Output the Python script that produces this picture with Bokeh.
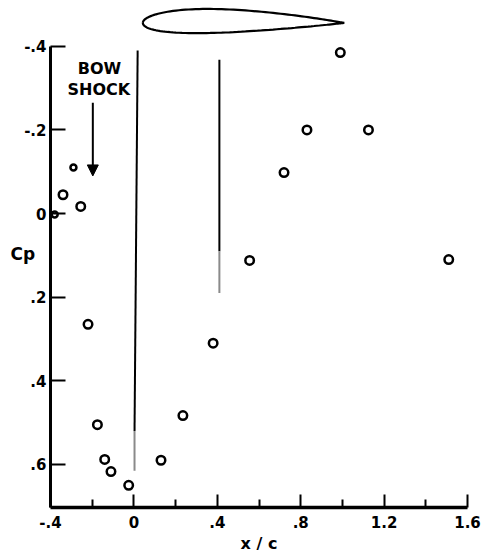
import numpy as np
from bokeh.plotting import figure
from bokeh.models import (Range1d, FixedTicker, CustomJSTickFormatter,
                          Arrow, NormalHead, ColumnDataSource, Label)
from bokeh.embed import file_html
from bokeh.resources import INLINE

# ---- data ----
x_c = [-0.38, -0.34, -0.29, -0.255, -0.22, -0.175, -0.14, -0.11, -0.025,
       0.13, 0.235, 0.38, 0.555, 0.72, 0.83, 0.99, 1.125, 1.51]
cp = [0.002, -0.045, -0.11, -0.017, 0.265, 0.505, 0.588, 0.617, 0.65,
      0.59, 0.483, 0.31, 0.112, -0.098, -0.20, -0.385, -0.20, 0.11]
marker_size = [6, 8.5, 6, 8.5, 8.5, 8.5, 8.5, 8.5, 8.5,
               8.5, 8.5, 8.5, 8.5, 8.5, 8.5, 8.5, 8.5, 8.5]

# vertical shock traces: black part and faded (gray) lower part
shock_x_top = [0.018, 0.41]
shock_x_bot = [0.003, 0.41]
shock_cp_top = [-0.39, -0.368]
shock_cp_mid = [0.52, 0.09]
shock_cp_bot = [0.615, 0.19]

# bow shock arrow
arrow_x = -0.197
arrow_cp_start = -0.265
arrow_cp_end = -0.09

# airfoil sketch parameters (leading edge x/c, chord in x/c, chord line level)
foil_le = 0.043
foil_chord = 0.966
foil_level = -0.456
foil_t, foil_m, foil_p = 0.12, 0.01, 0.4

x_ticks = [-0.4, 0.0, 0.4, 0.8, 1.2, 1.6]
x_minor = [-0.2, 0.2, 0.6, 1.0, 1.4]
y_ticks = [-0.4, -0.2, 0.0, 0.2, 0.4, 0.6]

# ---- figure ----
p = figure(width=481, height=558,
           x_range=Range1d(-0.4, 1.6), y_range=Range1d(0.703, -0.5096),
           output_backend="svg", toolbar_location=None,
           min_border_left=50, min_border_right=14,
           min_border_top=0, min_border_bottom=51)
p.xgrid.visible = False
p.ygrid.visible = False
p.outline_line_color = None

fmt = CustomJSTickFormatter(code="""
if (Math.abs(tick) < 1e-9) { return "0"; }
let s = tick.toFixed(1);
s = s.replace("0.", ".");
return s;
""")

FONT = "DejaVu Sans"

xa = p.xaxis[0]
xa.ticker = FixedTicker(ticks=x_ticks, minor_ticks=x_minor)
xa.formatter = fmt
xa.axis_line_width = 3.5
xa.major_tick_in = 13
xa.major_tick_out = 0
xa.minor_tick_in = 8
xa.minor_tick_out = 0
xa.major_tick_line_width = 2
xa.minor_tick_line_width = 2
xa.major_label_text_font = FONT
xa.major_label_text_font_style = "bold"
xa.major_label_text_font_size = "15px"
xa.major_label_text_color = "black"
xa.major_label_standoff = 8
xa.axis_label = "x / c"
xa.axis_label_text_font = FONT
xa.axis_label_text_font_style = "bold"
xa.axis_label_text_font_size = "16px"
xa.axis_label_text_color = "black"
xa.axis_label_standoff = 3

ya = p.yaxis[0]
ya.ticker = FixedTicker(ticks=y_ticks, minor_ticks=[])
ya.formatter = fmt
ya.bounds = (-0.4, 0.703)
ya.axis_line_width = 3
ya.major_tick_in = 15
ya.major_tick_out = 0
ya.minor_tick_in = 0
ya.minor_tick_out = 0
ya.major_tick_line_width = 2
ya.major_label_text_font = FONT
ya.major_label_text_font_style = "bold"
ya.major_label_text_font_size = "15px"
ya.major_label_text_color = "black"
ya.major_label_standoff = 4
ya.axis_label = "Cp"
ya.axis_label_orientation = "horizontal"
ya.axis_label_text_font = FONT
ya.axis_label_text_font_style = "bold"
ya.axis_label_text_font_size = "17px"
ya.axis_label_text_color = "black"
ya.axis_label_standoff = -14

# shock traces
p.segment(x0=shock_x_top, y0=shock_cp_top, x1=shock_x_bot, y1=shock_cp_mid,
          line_color="black", line_width=2)
p.segment(x0=shock_x_bot, y0=shock_cp_mid, x1=shock_x_bot, y1=shock_cp_bot,
          line_color="#8a8a8a", line_width=2)

# data points
src = ColumnDataSource(dict(x=x_c, y=cp, s=marker_size))
p.scatter(x="x", y="y", size="s", source=src, marker="circle",
          fill_color=None, line_color="black", line_width=2.5)

# airfoil outline (NACA-type shape from parameters)
beta = np.linspace(0, np.pi, 80)
xf = 0.5 * (1 - np.cos(beta))
yt = 5 * foil_t * (0.2969 * np.sqrt(xf) - 0.1260 * xf - 0.3516 * xf**2
                   + 0.2843 * xf**3 - 0.1036 * xf**4)
yc = np.where(xf < foil_p,
              foil_m / foil_p**2 * (2 * foil_p * xf - xf**2),
              foil_m / (1 - foil_p)**2 * ((1 - 2 * foil_p) + 2 * foil_p * xf - xf**2))
chord_px = 201.0
cp_per_px = 1.0 / 418.0
up = foil_level - (yc + yt) * chord_px * cp_per_px
lo = foil_level - (yc - yt) * chord_px * cp_per_px
fx = foil_le + xf * foil_chord
ox = np.concatenate([fx, fx[::-1]])
oy = np.concatenate([up, lo[::-1]])
p.line(ox, oy, line_color="black", line_width=2.2)

# arrow
p.add_layout(Arrow(end=NormalHead(size=11, fill_color="black", line_color="black"),
                   x_start=arrow_x, y_start=arrow_cp_start,
                   x_end=arrow_x, y_end=arrow_cp_end,
                   line_color="black", line_width=2))

for txt, lx, ly in [("BOW", -0.165, -0.347), ("SHOCK", -0.168, -0.297)]:
    p.add_layout(Label(x=lx, y=ly, text=txt, text_align="center",
                       text_baseline="middle", text_font=FONT,
                       text_font_size="16px", text_font_style="bold",
                       text_color="black"))

open("out.html", "w").write(file_html(p, INLINE))
